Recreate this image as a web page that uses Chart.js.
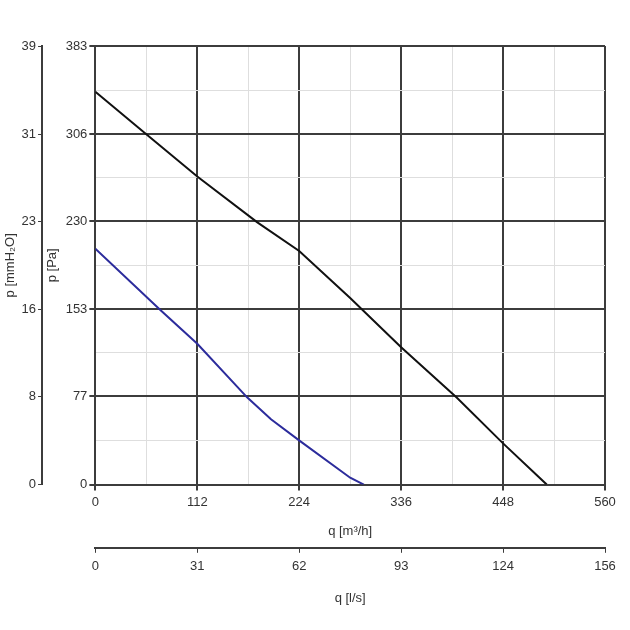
<!DOCTYPE html>
<html>
<head>
<meta charset="utf-8">
<script src="https://cdn.jsdelivr.net/npm/chart.js@4/dist/chart.umd.min.js"></script>
<style>
  html, body { margin: 0; padding: 0; background: #fff; }
  #wrap { width: 630px; height: 630px; }
</style>
</head>
<body>
<div id="wrap"><canvas id="fanChart"></canvas></div>
<script>
const flowTicks = [0, 112, 224, 336, 448, 560];      // q [m³/h]
const flowLsTicks = [0, 31, 62, 93, 124, 156];       // q [l/s]
const pressureTicks = [0, 77, 153, 230, 306, 383];   // p [Pa]
const pressureMmTicks = [0, 8, 16, 23, 31, 39];      // p [mmH2O]

// curve 1 (black)
const curveHighQ = [0, 56, 112, 178, 224, 280, 336, 397, 448, 496];
const curveHighP = [343, 306, 269, 229, 204, 163, 120, 76, 36, 0];
// curve 2 (blue)
const curveLowQ = [0, 72, 112, 167, 193, 225, 280, 295];
const curveLowP = [206, 152, 123, 76, 57, 38, 6, 0];

const FONT = "'Liberation Sans Narrow', 'Liberation Sans', Arial, sans-serif";
const TEXT = '#333';
const MAJOR = '#3c3c3c';
const MINOR = '#dedede';

function withMinor(ticks) {
  const out = [];
  ticks.forEach((t, i) => {
    out.push(t);
    if (i < ticks.length - 1) out.push((t + ticks[i + 1]) / 2);
  });
  return out;
}

function toPoints(xs, ys) {
  return xs.map((x, i) => ({ x: x, y: ys[i] }));
}

const mainGrid = {
  color: ctx => ctx.index % 2 === 0 ? MAJOR : MINOR,
  lineWidth: ctx => ctx.index % 2 === 0 ? 2 : 1,
  tickColor: ctx => ctx.index % 2 === 0 ? MAJOR : 'rgba(0,0,0,0)',
  tickLength: 6
};

new Chart(document.getElementById('fanChart'), {
  type: 'line',
  data: {
    datasets: [
      {
        data: toPoints(curveHighQ, curveHighP),
        borderColor: '#111',
        borderWidth: 2,
        pointRadius: 0,
        tension: 0,
        xAxisID: 'x',
        yAxisID: 'y'
      },
      {
        data: toPoints(curveLowQ, curveLowP),
        borderColor: '#2c2c9c',
        borderWidth: 2,
        pointRadius: 0,
        tension: 0,
        xAxisID: 'x',
        yAxisID: 'y'
      }
    ]
  },
  options: {
    responsive: true,
    maintainAspectRatio: false,
    animation: false,
    layout: { padding: { top: 46, right: 25, bottom: 24, left: 2 } },
    plugins: { legend: { display: false }, tooltip: { enabled: false } },
    scales: {
      x: {
        type: 'linear',
        position: 'bottom',
        min: 0,
        max: 560,
        afterBuildTicks: axis => { axis.ticks = withMinor(flowTicks).map(v => ({ value: v })); },
        ticks: {
          autoSkip: false,
          maxRotation: 0,
          padding: 4,
          color: TEXT,
          font: { family: FONT, size: 13 },
          callback: (v, i) => i % 2 === 0 ? String(flowTicks[i / 2]) : ''
        },
        grid: mainGrid,
        border: { color: MAJOR, width: 2 },
        title: {
          display: true,
          text: 'q [m³/h]',
          color: TEXT,
          font: { family: FONT, size: 13 },
          padding: { top: 9, bottom: 9 }
        }
      },
      x2: {
        type: 'linear',
        position: 'bottom',
        min: 0,
        max: 560,
        afterBuildTicks: axis => { axis.ticks = flowTicks.map(v => ({ value: v })); },
        ticks: {
          autoSkip: false,
          maxRotation: 0,
          padding: 6,
          color: TEXT,
          font: { family: FONT, size: 13 },
          callback: (v, i) => String(flowLsTicks[i])
        },
        grid: { drawOnChartArea: false, color: MAJOR, tickLength: 5 },
        border: { color: MAJOR, width: 2 },
        title: {
          display: true,
          text: 'q [l/s]',
          color: TEXT,
          font: { family: FONT, size: 13 },
          padding: { top: 10, bottom: 0 }
        }
      },
      y: {
        type: 'linear',
        position: 'left',
        min: 0,
        max: 383,
        afterBuildTicks: axis => { axis.ticks = withMinor(pressureTicks).map(v => ({ value: v })); },
        ticks: {
          autoSkip: false,
          padding: 2,
          color: TEXT,
          font: { family: FONT, size: 13 },
          callback: (v, i) => i % 2 === 0 ? String(pressureTicks[i / 2]) : ''
        },
        grid: mainGrid,
        border: { color: MAJOR, width: 2 },
        title: {
          display: true,
          text: 'p [Pa]',
          color: TEXT,
          font: { family: FONT, size: 13 },
          padding: { top: 3, bottom: 3 }
        }
      },
      y2: {
        type: 'linear',
        position: 'left',
        min: 0,
        max: 383,
        afterBuildTicks: axis => { axis.ticks = pressureTicks.map(v => ({ value: v })); },
        ticks: {
          autoSkip: false,
          padding: 2,
          color: TEXT,
          font: { family: FONT, size: 13 },
          callback: (v, i) => String(pressureMmTicks[i])
        },
        grid: { drawOnChartArea: false, color: MAJOR, tickLength: 4 },
        border: { color: MAJOR, width: 2 },
        title: {
          display: true,
          text: 'p [mmH₂O]',
          color: TEXT,
          font: { family: FONT, size: 13 },
          padding: { top: 1, bottom: 1 }
        }
      }
    }
  }
});
</script>
</body>
</html>
